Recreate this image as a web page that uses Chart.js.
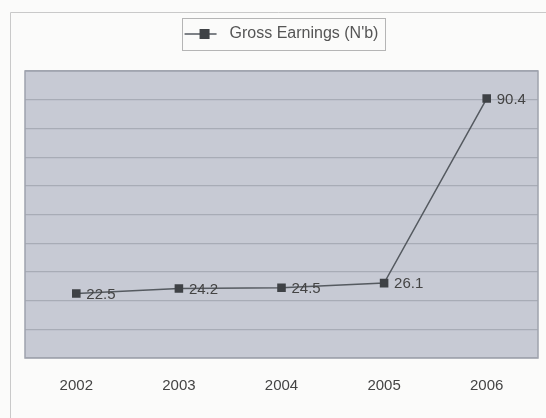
<!DOCTYPE html>
<html>
<head>
<meta charset="utf-8">
<script src="https://cdn.jsdelivr.net/npm/chart.js@4"></script>
<style>
    html, body { margin: 0; padding: 0; background: #fbfbfa; }
    #wrap { width: 546px; height: 418px; }
</style>
</head>
<body>
<div id="wrap"><canvas id="grafico" width="546" height="418"></canvas></div>
<script>
const anios = ['2002', '2003', '2004', '2005', '2006'];
const ganancias = [22.5, 24.2, 24.5, 26.1, 90.4];
const etiquetas = ['22.5', '24.2', '24.5', '26.1', '90.4'];
const serieNombre = 'Gross Earnings (N\'b)';

const fuente = '"Liberation Sans", Arial, sans-serif';

// fondo, marco y area gris del grafico
const fondoPlugin = {
    id: 'fondo',
    beforeDraw(chart) {
        const ctx = chart.ctx;
        const a = chart.chartArea;
        ctx.save();
        ctx.strokeStyle = '#c9c9c9';
        ctx.lineWidth = 1;
        ctx.beginPath();
        ctx.moveTo(10.5, 418);
        ctx.lineTo(10.5, 12.5);
        ctx.lineTo(546, 12.5);
        ctx.stroke();
        ctx.fillStyle = '#c7cad4';
        ctx.fillRect(a.left, a.top, a.right - a.left, a.bottom - a.top);
        ctx.restore();
    },
    afterDraw(chart) {
        const ctx = chart.ctx;
        const a = chart.chartArea;
        ctx.save();
        ctx.strokeStyle = '#9fa3ad';
        ctx.lineWidth = 1.5;
        ctx.strokeRect(a.left, a.top, a.right - a.left, a.bottom - a.top);
        // caja de la leyenda con linea y marcador
        const box = chart.legend.legendHitBoxes[0];
        if (box) {
            ctx.strokeStyle = '#b5b5b5';
            ctx.lineWidth = 1;
            ctx.strokeRect(Math.round(box.left - 3) + 0.5, 18.5, Math.round(box.width + 9), 32);
            const cy = box.top + box.height / 2;
            ctx.strokeStyle = '#555a60';
            ctx.lineWidth = 1.5;
            ctx.beginPath();
            ctx.moveTo(box.left, cy);
            ctx.lineTo(box.left + 32, cy);
            ctx.stroke();
            ctx.fillStyle = '#3f4246';
            ctx.fillRect(box.left + 15, cy - 5, 10, 10);
        }
        ctx.restore();
    }
};

const etiquetasPlugin = {
    id: 'etiquetas',
    afterDatasetsDraw(chart) {
        const ctx = chart.ctx;
        const meta = chart.getDatasetMeta(0);
        ctx.save();
        ctx.fillStyle = '#444';
        ctx.font = '15px ' + fuente;
        ctx.textBaseline = 'middle';
        ctx.textAlign = 'left';
        meta.data.forEach((p, i) => {
            ctx.fillText(etiquetas[i], p.x + 10, p.y + 1);
        });
        ctx.restore();
    }
};

const margenLeyenda = {
    id: 'margenLeyenda',
    beforeInit(chart) {
        const fitOriginal = chart.legend.fit;
        chart.legend.fit = function () {
            fitOriginal.bind(chart.legend)();
            this.height += 19;
        };
    }
};

const ctx = document.getElementById('grafico').getContext('2d');
new Chart(ctx, {
    type: 'line',
    data: {
        labels: anios,
        datasets: [{
            label: serieNombre,
            data: ganancias,
            borderColor: '#555a60',
            borderWidth: 1.5,
            pointStyle: 'rect',
            pointRadius: 5,
            pointBackgroundColor: '#3f4246',
            pointBorderColor: '#3f4246',
            tension: 0
        }]
    },
    options: {
        responsive: false,
        animation: false,
        layout: { padding: { left: 25, right: 8, top: 17, bottom: 12 } },
        plugins: {
            tooltip: { enabled: false },
            legend: {
                position: 'top',
                labels: {
                    boxWidth: 37,
                    boxHeight: 8,
                    padding: 9,
                    color: '#555',
                    font: { size: 16, family: fuente },
                    generateLabels(chart) {
                        return [{
                            text: serieNombre,
                            fillStyle: 'rgba(0,0,0,0)',
                            strokeStyle: 'rgba(0,0,0,0)',
                            lineWidth: 0,
                            datasetIndex: 0,
                            fontColor: '#555'
                        }];
                    }
                }
            }
        },
        scales: {
            x: {
                offset: true,
                grid: { display: false },
                border: { display: false },
                ticks: {
                    color: '#444',
                    padding: 11,
                    font: { size: 15, family: fuente }
                }
            },
            y: {
                min: 0,
                max: 100,
                ticks: { display: false, stepSize: 10 },
                border: { display: false },
                grid: { color: '#a8acb6', lineWidth: 1.2, drawTicks: false },
                afterFit(scale) { scale.width = 0; }
            }
        }
    },
    plugins: [fondoPlugin, etiquetasPlugin, margenLeyenda]
});
</script>
</body>
</html>
